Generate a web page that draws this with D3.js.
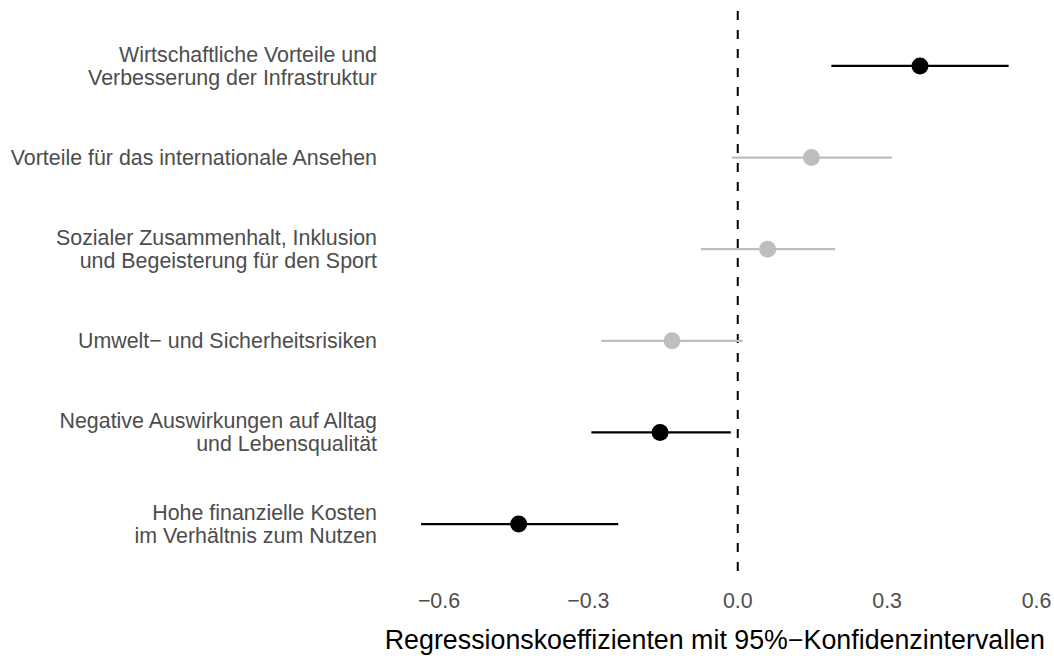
<!DOCTYPE html>
<html>
<head>
<meta charset="utf-8">
<script src="https://cdn.jsdelivr.net/npm/d3@7"></script>
<style>
  body { margin: 0; background: #fff; }
  text { font-family: "Liberation Sans", Arial, sans-serif; }
</style>
</head>
<body>
<div id="chart"></div>
<script>
var width = 1054;
var height = 660;

// data
var labels = [
  ["Wirtschaftliche Vorteile und", "Verbesserung der Infrastruktur"],
  ["Vorteile für das internationale Ansehen"],
  ["Sozialer Zusammenhalt, Inklusion", "und Begeisterung für den Sport"],
  ["Umwelt\u2212 und Sicherheitsrisiken"],
  ["Negative Auswirkungen auf Alltag", "und Lebensqualität"],
  ["Hohe finanzielle Kosten", "im Verhältnis zum Nutzen"]
];
var estimate = [0.366, 0.148, 0.060, -0.132, -0.156, -0.440];
var lower    = [0.188, -0.012, -0.074, -0.274, -0.294, -0.636];
var upper    = [0.544, 0.310, 0.196, 0.010, -0.014, -0.240];
var significant = [true, false, false, false, true, true];
var xTicks = [-0.6, -0.3, 0.0, 0.3, 0.6];

var svg = d3.select("#chart")
  .append("svg")
  .attr("width", width)
  .attr("height", height);

var x = d3.scaleLinear()
  .domain([-0.6, 0.6])
  .range([439, 1036.5]);

var idx = d3.range(labels.length);
var y = d3.scalePoint()
  .domain(idx)
  .range([11, 579])
  .padding(0.6);

var fmt = function(d){ return d3.format(".1f")(d).replace("-", "\u2212"); };

// zero reference line
svg.append("line")
  .attr("x1", x(0)).attr("x2", x(0))
  .attr("y1", 11).attr("y2", 579)
  .attr("stroke", "#000")
  .attr("stroke-width", 2)
  .attr("stroke-dasharray", "9,10");

var rows = svg.selectAll("g.row")
  .data(idx)
  .enter()
  .append("g")
  .attr("class", "row");

rows.append("line")
  .attr("x1", function(i){ return x(lower[i]); })
  .attr("x2", function(i){ return x(upper[i]); })
  .attr("y1", function(i){ return y(i); })
  .attr("y2", function(i){ return y(i); })
  .attr("stroke", function(i){ return significant[i] ? "#000" : "#bebebe"; })
  .attr("stroke-width", 2.2);

rows.append("circle")
  .attr("cx", function(i){ return x(estimate[i]); })
  .attr("cy", function(i){ return y(i); })
  .attr("r", 8.5)
  .attr("fill", function(i){ return significant[i] ? "#000" : "#bebebe"; });

// y labels
var lineH = 23;
rows.append("text")
  .attr("text-anchor", "end")
  .attr("fill", "#4d4d4d")
  .attr("font-size", 21.4)
  .each(function(i){
    var t = d3.select(this);
    var n = labels[i].length;
    labels[i].forEach(function(s, k){
      t.append("tspan")
        .attr("x", 377)
        .attr("y", y(i) + (k - (n - 1) / 2) * lineH)
        .attr("dy", "0.35em")
        .text(s);
    });
  });

// x axis labels
svg.selectAll("text.tick")
  .data(xTicks)
  .enter()
  .append("text")
  .attr("class", "tick")
  .attr("x", function(d){ return x(d); })
  .attr("y", 601)
  .attr("dy", "0.35em")
  .attr("text-anchor", "middle")
  .attr("fill", "#4d4d4d")
  .attr("font-size", 21.4)
  .text(fmt);

// axis title, centred on the panel
var panel = x.domain().map(function(){ return 0; });
var panelLeft = x(-0.695), panelRight = x(0.603);
svg.append("text")
  .attr("x", (panelLeft + panelRight) / 2)
  .attr("y", 640)
  .attr("dy", "0.35em")
  .attr("text-anchor", "middle")
  .attr("fill", "#000")
  .attr("font-size", 26.8)
  .text("Regressionskoeffizienten mit 95%\u2212Konfidenzintervallen");
</script>
</body>
</html>
